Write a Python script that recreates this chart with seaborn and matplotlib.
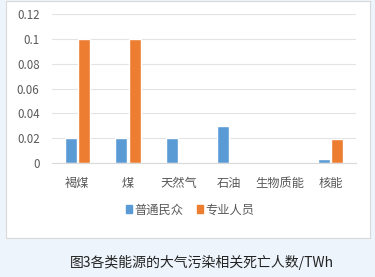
import matplotlib
matplotlib.use("Agg")
import matplotlib.pyplot as plt
import seaborn as sns
import pandas as pd
from matplotlib.patches import Rectangle

categories = ["褐煤", "煤", "天然气", "石油", "生物质能", "核能"]
public = [0.02, 0.02, 0.02, 0.03, 0.0, 0.003]
workers = [0.1, 0.1, 0.001, 0.0, 0.0, 0.019]
series = ["普通民众", "专业人员"]
yticks = [0, 0.02, 0.04, 0.06, 0.08, 0.1, 0.12]
ytick_labels = ["0", "0.02", "0.04", "0.06", "0.08", "0.1", "0.12"]
caption = "图3各类能源的大气污染相关死亡人数/TWh"

df = pd.DataFrame({
    "cat": categories * 2,
    "val": public + workers,
    "series": [series[0]] * len(categories) + [series[1]] * len(categories),
})

sns.set_theme(style="white")
plt.rcParams['font.family'] = ['Noto Sans CJK SC', 'DejaVu Sans']

W, H = 375, 277
fig = plt.figure(figsize=(W / 100, H / 100), dpi=100)
fig.patch.set_facecolor("#edf4fb")

# white chart box
box = Rectangle((6 / W, 1 - 238 / H), 364 / W, 237 / H, transform=fig.transFigure,
                facecolor="white", edgecolor="#d9d9d9", linewidth=0.8, zorder=-5)
fig.patches.append(box)

ax = fig.add_axes([52 / W, 1 - 163 / H, 304 / W, (163 - 14) / H])
ax.set_zorder(1)
ax.patch.set_alpha(0)
sns.barplot(data=df, x="cat", y="val", hue="series", order=categories,
            hue_order=series, palette=["#5B9BD5", "#ED7D31"], width=0.52,
            gap=0.1, ax=ax, legend=False, saturation=1)
ax.set_ylim(0, 0.12)
ax.set_yticks(yticks)
ax.set_yticklabels(ytick_labels)
ax.set_xlim(-0.5, len(categories) - 0.5)
ax.yaxis.grid(True, color="#e3e3e3", linewidth=0.8)
ax.set_axisbelow(True)
for s in ["top", "right", "left"]:
    ax.spines[s].set_visible(False)
ax.spines["bottom"].set_color("#d9d9d9")
ax.spines["bottom"].set_linewidth(0.8)
ax.tick_params(axis="both", length=0, colors="#595959")
ax.tick_params(axis="y", pad=9, labelsize=8.3)
ax.tick_params(axis="x", pad=10, labelsize=8.8)
ax.set_xlabel("")
ax.set_ylabel("")

# legend
handles = [Rectangle((0, 0), 1, 1, color="#5B9BD5"), Rectangle((0, 0), 1, 1, color="#ED7D31")]
leg = fig.legend(handles, series, loc="center", bbox_to_anchor=(190 / W, 1 - 210 / H),
                 ncol=2, frameon=False, fontsize=8.8, handlelength=0.55, handleheight=0.55,
                 handletextpad=0.15, columnspacing=1.1, labelcolor="#595959")

fig.text(202 / W, 1 - 262 / H, caption, ha="center", va="center", fontsize=10, color="#222222")

fig.savefig("out.png", dpi=100, facecolor=fig.get_facecolor())
